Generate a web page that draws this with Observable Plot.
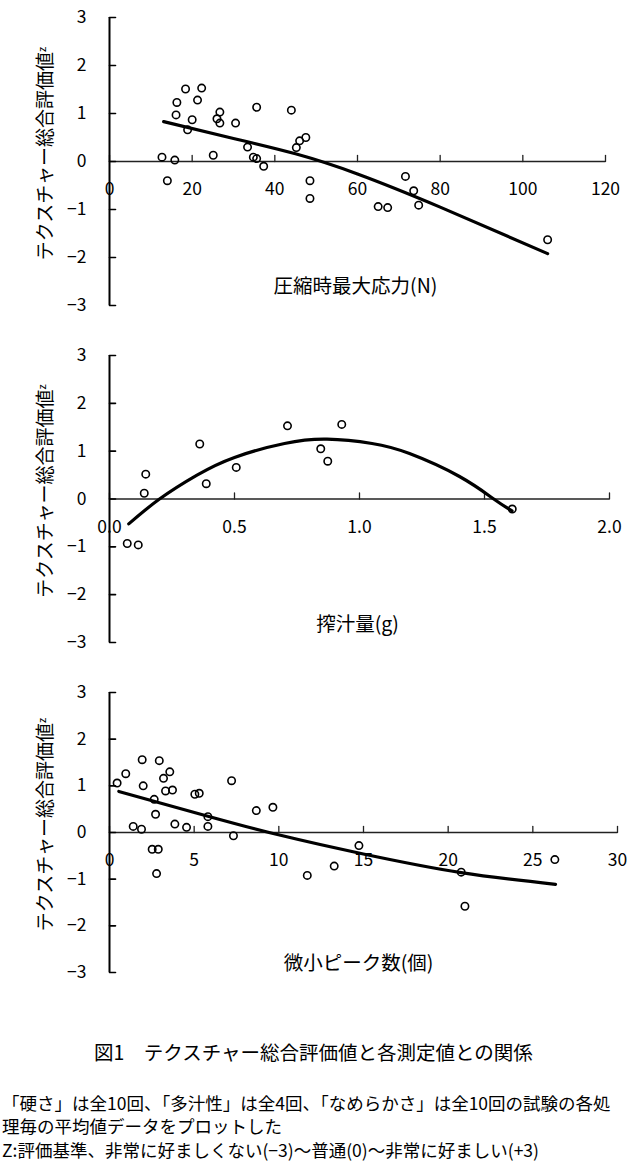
<!DOCTYPE html>
<html><head><meta charset="utf-8">
<script src="https://cdn.jsdelivr.net/npm/d3@7"></script>
<script src="https://cdn.jsdelivr.net/npm/@observablehq/plot@0.6"></script>
<style>
body{margin:0;background:#fff;font-family:"Noto Sans CJK JP","Noto Sans",sans-serif;color:#000;}
#wrap{position:relative;width:632px;height:1167px;}
#wrap svg{display:block;overflow:visible;}
.cap{position:absolute;left:0;white-space:nowrap;line-height:22px;}
</style></head><body>
<div id="wrap"><div id="plots"></div>
<div class="cap" id="c0" style="top:1041px;left:94px;font-size:19.5px;">図1　テクスチャー総合評価値と各測定値との関係</div>
<div class="cap" id="c1" style="top:1092px;left:2px;font-size:17.5px;">「硬さ」は全10回、「多汁性」は全4回、「なめらかさ」は全10回の試験の各処</div>
<div class="cap" id="c2" style="top:1115px;left:2px;font-size:17.5px;">理毎の平均値データをプロットした</div>
<div class="cap" id="c3" style="top:1139px;left:2px;font-size:17.5px;">Z:評価基準、非常に好ましくない(−3)～普通(0)～非常に好ましい(+3)</div>
</div>
<script>
// shared
const yTicks = [-3, -2, -1, 0, 1, 2, 3];
const yLabel = "テクスチャー総合評価値";
const yLabelSup = "z";

// panel 1: 圧縮時最大応力
const forceX = [12.7,14.0,15.8,16.3,16.1,18.4,18.9,20.0,21.3,22.3,25.1,26.0,26.7,26.7,30.5,33.4,34.8,35.6,35.6,37.3,44.0,45.2,46.0,47.5,48.5,48.5,71.6,73.6,65.0,67.3,74.8,106.0];
const forceY = [0.09,-0.40,0.03,1.23,0.97,1.51,0.66,0.87,1.28,1.53,0.13,0.89,1.03,0.80,0.80,0.30,0.09,1.13,0.06,-0.10,1.07,0.29,0.43,0.50,-0.40,-0.77,-0.31,-0.61,-0.94,-0.96,-0.91,-1.63];
const forceTrendX = [13.1, 30, 45, 60, 80, 106];
const forceTrendY = [0.83, 0.48, 0.16, -0.26, -0.95, -1.92];
const forceTicks = [0, 20, 40, 60, 80, 100, 120];
const forceTitle = "圧縮時最大応力(N)";

// panel 2: 搾汁量
const juiceX = [0.071,0.115,0.139,0.145,0.361,0.387,0.507,0.712,0.845,0.873,0.929,1.611];
const juiceY = [-0.93,-0.96,0.12,0.52,1.15,0.32,0.66,1.53,1.05,0.79,1.56,-0.21];
const juiceTrendX = [0.077, 0.2, 0.35, 0.5, 0.7, 0.87, 1.05, 1.2, 1.4, 1.537, 1.61];
const juiceTrendY = [-0.52, 0, 0.5, 0.87, 1.16, 1.25, 1.16, 0.95, 0.47, 0, -0.25];
const juiceTicks = [0, 0.5, 1.0, 1.5, 2.0];
const juiceTitle = "搾汁量(g)";

// panel 3: 微小ピーク数
const peakX = [0.45,0.96,1.93,1.99,1.40,1.89,2.64,2.72,2.94,3.19,3.31,3.56,3.72,3.86,4.55,5.04,5.30,5.81,5.81,7.21,7.32,8.67,9.65,2.52,2.88,2.78,14.73,11.68,13.27,20.77,20.99,26.30];
const peakY = [1.06,1.26,1.56,1.00,0.13,0.07,0.71,0.39,1.54,1.16,0.89,1.30,0.91,0.18,0.11,0.82,0.84,0.34,0.13,1.11,-0.07,0.47,0.54,-0.36,-0.36,-0.88,-0.28,-0.92,-0.72,-0.85,-1.58,-0.58];
const peakTrendX = [0.55, 5.81, 10.1, 14.99, 20.77, 26.34];
const peakTrendY = [0.88, 0.35, -0.06, -0.46, -0.86, -1.11];
const peakTicks = [0, 5, 10, 15, 20, 25, 30];
const peakTitle = "微小ピーク数(個)";

const tickRight = {draw(ctx, l) { ctx.moveTo(0, 0); ctx.lineTo(l, 0); }};
const tickUp = {draw(ctx, l) { ctx.moveTo(0, 0); ctx.lineTo(0, -l); }};
const minus = v => v < 0 ? "−" + Math.abs(v) : String(v);
const FONT = '"Noto Sans CJK JP", "Noto Sans", sans-serif';

function panel(o) {
  const pts = o.xs.map((x, i) => ({x, y: o.ys[i]}));
  const trend = o.tx.map((x, i) => ({x, y: o.ty[i]}));
  const svg = Plot.plot({
    width: 632, height: o.height,
    marginLeft: 109, marginRight: o.marginRight, marginTop: o.marginTop, marginBottom: o.marginBottom,
    style: {fontFamily: FONT, background: "white", color: "black", overflow: "visible"},
    x: {domain: o.xDomain, axis: null},
    y: {domain: [-3, 3], axis: null},
    marks: [
      Plot.ruleY([0], {x1: o.xDomain[0], x2: o.xDomain[1], stroke: "#222", strokeWidth: 1.3}),
      Plot.vector(o.xTicks, {x: d => d, y: 0, length: 6, anchor: "start", shape: tickUp, stroke: "#222", strokeWidth: 1.3}),
      Plot.text(o.xTicks, {x: d => d, y: 0, dy: 28, text: o.xFormat, fontSize: 17.5, fill: "black"}),
      Plot.ruleX([0], {y1: -3, y2: 3, stroke: "black", strokeWidth: 2}),
      Plot.vector(yTicks, {x: 0, y: d => d, length: 6, anchor: "start", shape: tickRight, stroke: "black", strokeWidth: 1.6}),
      Plot.text(yTicks, {x: 0, y: d => d, dx: -23, textAnchor: "end", text: minus, fontSize: 17.5, fill: "black"}),
      Plot.line(trend, {x: "x", y: "y", curve: "natural", stroke: "black", strokeWidth: 3.2}),
      Plot.dot(pts, {x: "x", y: "y", r: 3.7, stroke: "black", strokeWidth: 1.6, fill: "none"}),
      Plot.text([o.title], {frameAnchor: "bottom", dy: o.titleDy, dx: o.titleDx, text: d => d, fontSize: 19.5, fill: "black"}),
      Plot.text([yLabel], {frameAnchor: "left", textAnchor: "middle", rotate: -90, dx: -64, dy: o.labelDy, text: d => d, fontSize: 19, fill: "black"})
    ]
  });
  d3.select(svg).selectAll("text").filter(function() { return this.textContent === yLabel; })
    .append("tspan").attr("dy", "-0.55em").attr("font-size", 11).text(yLabelSup);
  return svg;
}

const host = document.getElementById("plots");
host.appendChild(panel({xs: forceX, ys: forceY, tx: forceTrendX, ty: forceTrendY, xTicks: forceTicks, xFormat: d => String(d),
  xDomain: [0, 120], title: forceTitle, height: 330, marginTop: 17, marginBottom: 25, marginRight: 27, titleDy: -13, titleDx: -2, labelDy: -8}));
host.appendChild(panel({xs: juiceX, ys: juiceY, tx: juiceTrendX, ty: juiceTrendY, xTicks: juiceTicks, xFormat: d => d.toFixed(1),
  xDomain: [0, 2], title: juiceTitle, height: 340, marginTop: 25, marginBottom: 28, marginRight: 23, titleDy: -12, titleDx: -2, labelDy: -8}));
host.appendChild(panel({xs: peakX, ys: peakY, tx: peakTrendX, ty: peakTrendY, xTicks: peakTicks, xFormat: d => String(d),
  xDomain: [0, 30], title: peakTitle, height: 330, marginTop: 22, marginBottom: 28, marginRight: 15, titleDy: -3, titleDx: -5, labelDy: -8}));
</script>
</body></html>
